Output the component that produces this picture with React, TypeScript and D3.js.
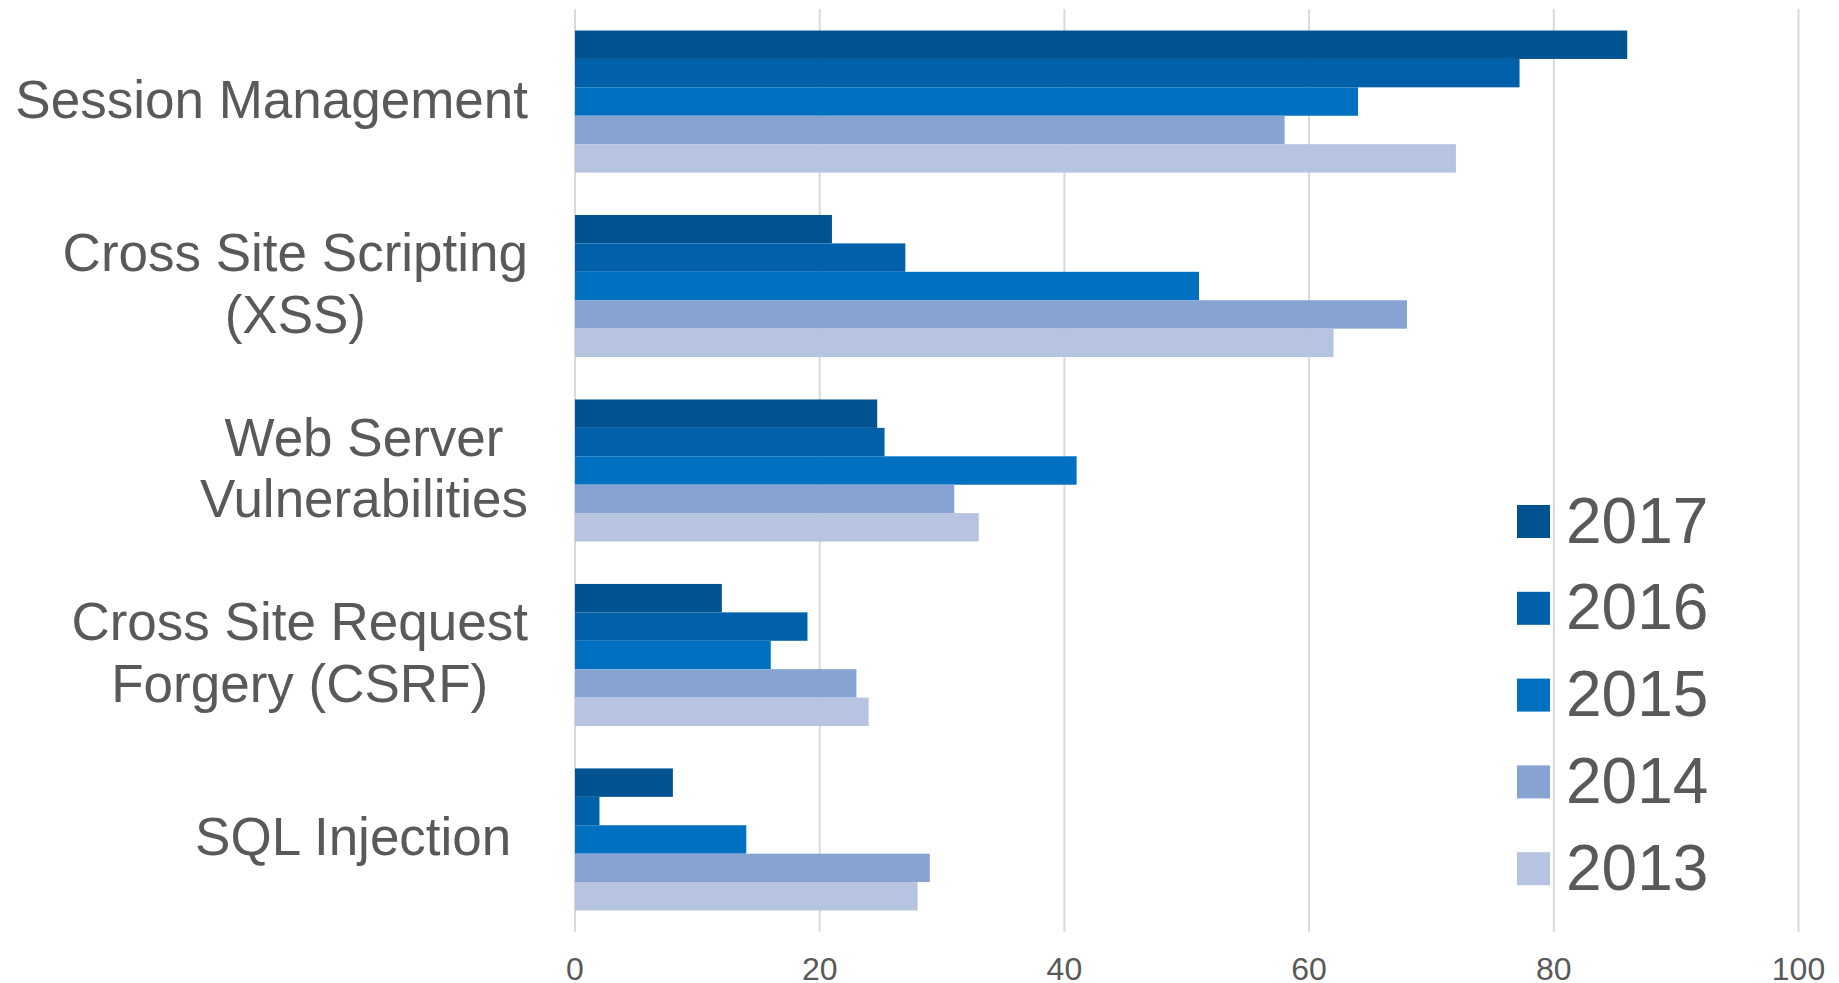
import React from "react";
import * as d3 from "d3";

const categories = [
  "Session Management",
  "Cross Site Scripting (XSS)",
  "Web Server Vulnerabilities",
  "Cross Site Request Forgery (CSRF)",
  "SQL Injection",
];
const categoryLines = [
  ["Session Management"],
  ["Cross Site Scripting", "(XSS)"],
  ["Web Server", "Vulnerabilities"],
  ["Cross Site Request", "Forgery (CSRF)"],
  ["SQL Injection "],
];
const years = ["2017", "2016", "2015", "2014", "2013"];
const v2017 = [86, 21, 24.7, 12, 8];
const v2016 = [77.2, 27, 25.3, 19, 2];
const v2015 = [64, 51, 41, 16, 14];
const v2014 = [58, 68, 31, 23, 29];
const v2013 = [72, 62, 33, 24, 28];
const seriesValues = [v2017, v2016, v2015, v2014, v2013];
const colors = ["#015290", "#0061aa", "#0070c0", "#87a3d2", "#b6c4e1"];
const xTicks = [0, 20, 40, 60, 80, 100];

const FONT = "'Liberation Sans', Arial, Helvetica, sans-serif";
const TEXT = "#595959";

let ctx: CanvasRenderingContext2D | null = null;
function measure(t: string, size: number) {
  if (!ctx) ctx = document.createElement("canvas").getContext("2d");
  if (!ctx) return t.length * size * 0.55;
  ctx.font = `${size}px ${FONT}`;
  return ctx.measureText(t).width;
}

export default function App() {
  const W = 1839;
  const H = 983;
  const x = d3.scaleLinear().domain([0, 100]).range([575, 1798.5]);
  const y = d3
    .scaleBand<string>()
    .domain(categories)
    .range([9.3, 931.7])
    .paddingInner(0.23)
    .paddingOuter(0.115);
  const yInner = d3.scaleBand<string>().domain(years).range([0, y.bandwidth()]);

  const catSize = 53;
  const lineH = 61.6;
  const labelRight = 528;

  return (
    <svg width={W} height={H} style={{ position: "absolute", left: 0, top: 0, background: "#fff" }}>
      {/* gridlines */}
      {xTicks.map((t) => (
        <line key={t} x1={x(t)} x2={x(t)} y1={9.3} y2={931.7} stroke="#d9d9d9" strokeWidth={2} />
      ))}
      {/* bars */}
      {categories.map((c, ci) => (
        <g key={c} transform={`translate(0,${y(c)})`}>
          {years.map((yr, si) => (
            <rect
              key={yr}
              x={x(0)}
              y={yInner(yr)}
              width={x(seriesValues[si][ci]) - x(0)}
              height={yInner.bandwidth()}
              fill={colors[si]}
            />
          ))}
        </g>
      ))}
      {/* category labels */}
      {categories.map((c, ci) => {
        const lines = categoryLines[ci];
        const widths = lines.map((l) => measure(l, catSize));
        const blockW = Math.max(...widths);
        const center = labelRight - blockW / 2;
        const cy = (y(c) as number) + y.bandwidth() / 2;
        const n = lines.length;
        return (
          <g key={c}>
            {lines.map((l, li) => (
              <text
                key={li}
                x={center - widths[li] / 2}
                y={cy + 16 + (li - (n - 1) / 2) * lineH}
                fontFamily={FONT}
                fontSize={catSize}
                fill={TEXT}
                textAnchor="start"
              >
                {l.trimEnd()}
              </text>
            ))}
          </g>
        );
      })}
      {/* x tick labels */}
      {xTicks.map((t) => (
        <text key={t} x={x(t)} y={980} textAnchor="middle" fontFamily={FONT} fontSize={32} fill={TEXT}>
          {t}
        </text>
      ))}
      {/* legend */}
      {years.map((yr, i) => {
        const top = 505 + i * 86.8;
        return (
          <g key={yr}>
            <rect x={1517} y={top} width={33} height={33} fill={colors[i]} />
            <text x={1566} y={top + 37.5} fontFamily={FONT} fontSize={64} fill={TEXT}>
              {yr}
            </text>
          </g>
        );
      })}
    </svg>
  );
}
